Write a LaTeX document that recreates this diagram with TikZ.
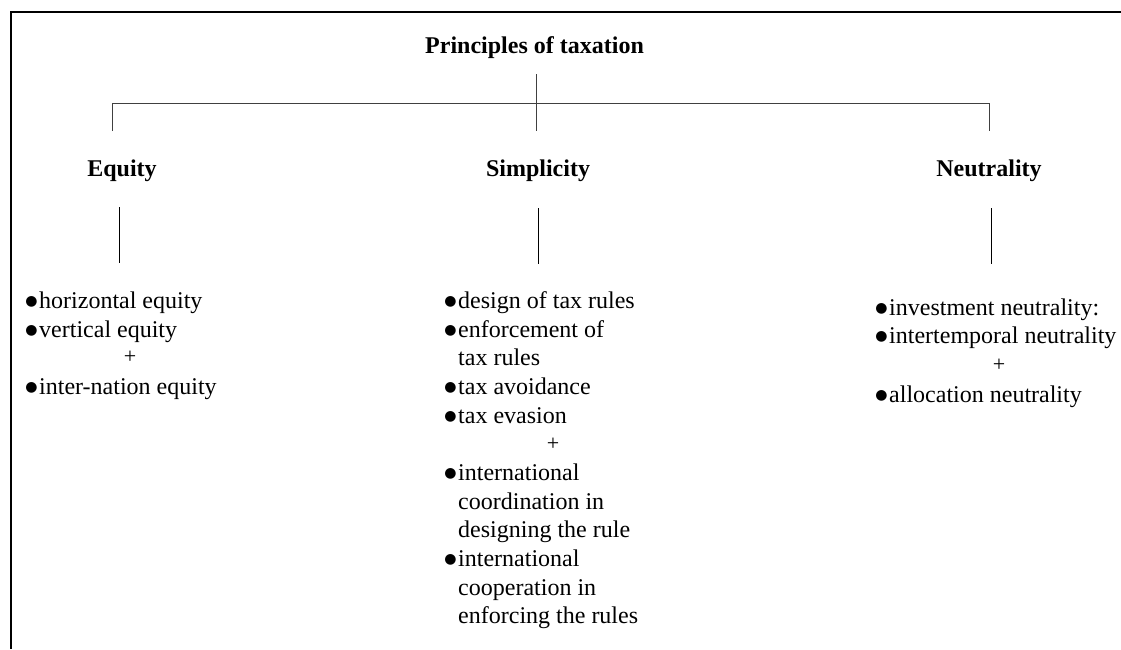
\documentclass[tikz,border=0pt]{standalone}
\usepackage{fontspec}
\setmainfont{Liberation Serif}
\newfontfamily\symfont{DejaVu Sans}
\newcommand\bul{\llap{\raisebox{2.5pt}{\symfont\fontsize{14}{14}\selectfont ●}\hspace{1.5pt}}}
\begin{document}
\begin{tikzpicture}[x=1pt,y=-1pt,
  frame/.style={line width=2pt,black},
  tree/.style={line width=1pt,black!75},
  stem/.style={line width=1pt,black},
  head/.style={anchor=base,inner sep=0pt,font=\fontsize{24}{28}\selectfont\bfseries},
  item/.style={anchor=base west,inner sep=0pt,font=\fontsize{24}{28}\selectfont},
  plus/.style={anchor=center,inner sep=0pt,font=\fontsize{22}{24}\selectfont}]
\useasboundingbox (0,0) rectangle (1121,649);
% outer frame: top and left edges only
\draw[frame] (1121,12) -- (11,12) -- (11,649);

% title and the three principles
\node[head] (title) at (534.5,53) {Principles of taxation};
\node[head] (equity) at (122,176) {Equity};
\node[head] (simplicity) at (538,176) {Simplicity};
\node[head] (neutrality) at (989,176) {Neutrality};

% branching tree
\coordinate (root) at (536,74);
\coordinate (hub) at (536,103);
\coordinate (cEnd) at (536,131);
\coordinate (lTop) at (112,103);
\coordinate (lEnd) at (112,131);
\coordinate (rTop) at (989,103);
\coordinate (rEnd) at (989,131);
\draw[tree] (root) -- (cEnd);
\draw[tree] (lEnd) -- (lTop) -- (rTop) -- (rEnd);

% stems from each principle to its list
\coordinate (eqA) at (119,207);
\coordinate (eqB) at (119,263);
\coordinate (siA) at (538,208);
\coordinate (siB) at (538,264);
\coordinate (neA) at (991,208);
\coordinate (neB) at (991,264);
\draw[stem] (eqA) -- (eqB);
\draw[stem] (siA) -- (siB);
\draw[stem] (neA) -- (neB);

% equity
\node[item] (e1) at (39,308) {\bul horizontal equity};
\node[item] (e2) at (39,337) {\bul vertical equity};
\node[plus] (ep) at (130,357) {+};
\node[item] (e3) at (39,394) {\bul inter-nation equity};

% simplicity
\node[item] (s1) at (458,308) {\bul design of tax rules};
\node[item] (s2) at (458,337) {\bul enforcement of};
\node[item] (s2b) at (458,365) {tax rules};
\node[item] (s3) at (458,394) {\bul tax avoidance};
\node[item] (s4) at (458,423) {\bul tax evasion};
\node[plus] (sp) at (553,444) {+};
\node[item] (s5) at (458,480) {\bul international};
\node[item] (s5b) at (458,509) {coordination in};
\node[item] (s5c) at (458,537) {designing the rule};
\node[item] (s6) at (458,566) {\bul international};
\node[item] (s6b) at (458,595) {cooperation in};
\node[item] (s6c) at (458,623) {enforcing the rules};

% neutrality
\node[item] (n1) at (889,315) {\bul investment neutrality:};
\node[item] (n2) at (889,343) {\bul intertemporal neutrality};
\node[plus] (np) at (999,365) {+};
\node[item] (n3) at (889,402) {\bul allocation neutrality};
\end{tikzpicture}
\end{document}
